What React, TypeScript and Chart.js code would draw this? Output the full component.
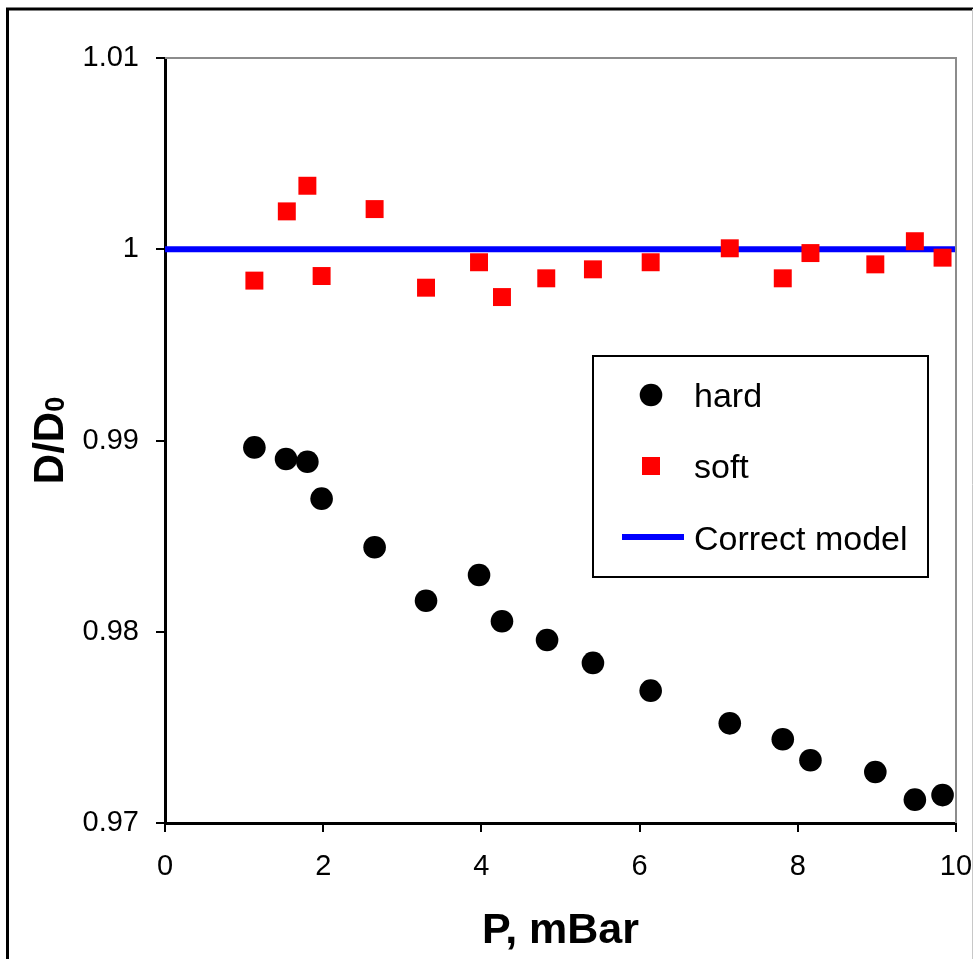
import React, { useEffect, useRef } from "react";
import { Chart, registerables } from "chart.js";

Chart.register(...registerables);

// ---- data ----
const hardP = [1.13, 1.53, 1.8, 1.98, 2.65, 3.3, 3.97, 4.26, 4.83, 5.41, 6.14, 7.14, 7.81, 8.16, 8.98, 9.48, 9.83];
const hardD = [0.98964, 0.98903, 0.98889, 0.98696, 0.98442, 0.98162, 0.98297, 0.98055, 0.97957, 0.97837, 0.97692, 0.97521, 0.97438, 0.97328, 0.97267, 0.97122, 0.97146];
const softP = [1.13, 1.54, 1.8, 1.98, 2.65, 3.3, 3.97, 4.26, 4.82, 5.41, 6.14, 7.14, 7.81, 8.16, 8.98, 9.48, 9.83];
const softD = [0.99836, 1.00198, 1.00332, 0.9986, 1.0021, 0.99799, 0.99932, 0.9975, 0.99848, 0.99895, 0.99932, 1.00005, 0.99848, 0.9998, 0.99921, 1.00042, 0.99956];
const modelP = [0, 10];
const modelD = [1, 1];
const seriesNames = ["hard", "soft", "Correct model"];
const xMin = 0;
const xMax = 10;
const xStep = 2;
const yMin = 0.97;
const yMax = 1.01;
const yStep = 0.01;
const xTitle = "P, mBar";
const yTitleMain = "D/D";
const yTitleSub = "0";

const FONT = "'Liberation Sans', Arial, sans-serif";

const toPts = (xs: number[], ys: number[]) => xs.map((x, i) => ({ x, y: ys[i] }));

const decorPlugin = {
  id: "decor",
  afterDraw(chart: any) {
    const ctx = chart.ctx as CanvasRenderingContext2D;
    const { left, right, top, bottom } = chart.chartArea;
    ctx.save();
    // outer frame
    ctx.strokeStyle = "#000";
    ctx.lineWidth = 3;
    ctx.beginPath();
    ctx.moveTo(7.5, 980);
    ctx.lineTo(7.5, 9);
    ctx.lineTo(990, 9);
    ctx.stroke();
    ctx.strokeStyle = "#c8c8c8";
    ctx.lineWidth = 1;
    ctx.beginPath();
    ctx.moveTo(972.5, 9);
    ctx.lineTo(972.5, 980);
    ctx.stroke();

    // plot top/right gray border
    ctx.strokeStyle = "#8c8c8c";
    ctx.lineWidth = 2;
    ctx.beginPath();
    ctx.moveTo(left, top);
    ctx.lineTo(right, top);
    ctx.lineTo(right, bottom);
    ctx.stroke();

    // x title
    ctx.fillStyle = "#000";
    ctx.font = `bold 43px ${FONT}`;
    ctx.textAlign = "center";
    ctx.textBaseline = "alphabetic";
    ctx.fillText(xTitle, (left + right) / 2, 943);

    // y title (rotated, with subscript)
    ctx.save();
    const mainFont = `bold 42px ${FONT}`;
    const subFont = `bold 27px ${FONT}`;
    ctx.font = mainFont;
    const wMain = ctx.measureText(yTitleMain).width;
    ctx.font = subFont;
    const wSub = ctx.measureText(yTitleSub).width;
    const total = wMain + wSub;
    ctx.translate(63, (top + bottom) / 2);
    ctx.rotate(-Math.PI / 2);
    ctx.textAlign = "left";
    ctx.font = mainFont;
    ctx.fillText(yTitleMain, -total / 2, 0);
    ctx.font = subFont;
    ctx.fillText(yTitleSub, -total / 2 + wMain, 1);
    ctx.restore();

    // legend
    const bx = 593, by = 356, bw = 335, bh = 221;
    ctx.fillStyle = "#fff";
    ctx.fillRect(bx, by, bw, bh);
    ctx.strokeStyle = "#000";
    ctx.lineWidth = 2;
    ctx.strokeRect(bx, by, bw, bh);
    const ds = chart.data.datasets;
    // hard
    ctx.fillStyle = ds[0].backgroundColor;
    ctx.beginPath();
    ctx.arc(651, 395, 11.3, 0, Math.PI * 2);
    ctx.fill();
    // soft
    ctx.fillStyle = ds[1].backgroundColor;
    ctx.fillRect(651 - 9, 466 - 9, 18, 18);
    // model line
    ctx.strokeStyle = ds[2].borderColor;
    ctx.lineWidth = 6;
    ctx.beginPath();
    ctx.moveTo(622, 537);
    ctx.lineTo(684, 537);
    ctx.stroke();
    ctx.fillStyle = "#000";
    ctx.font = `34px ${FONT}`;
    ctx.textAlign = "left";
    ctx.textBaseline = "alphabetic";
    ctx.fillText(seriesNames[0], 694, 407);
    ctx.fillText(seriesNames[1], 694, 478);
    ctx.fillText(seriesNames[2], 694, 550);
    ctx.restore();
  },
};

export default function App() {
  const ref = useRef<HTMLCanvasElement | null>(null);
  useEffect(() => {
    if (!ref.current) return;
    const chart = new Chart(ref.current, {
      type: "scatter",
      data: {
        datasets: [
          {
            label: seriesNames[0],
            data: toPts(hardP, hardD),
            backgroundColor: "#000000",
            borderColor: "#000000",
            borderWidth: 0,
            pointStyle: "circle",
            pointRadius: 11.3,
            order: 0,
          },
          {
            label: seriesNames[1],
            data: toPts(softP, softD),
            backgroundColor: "#ff0000",
            borderColor: "#ff0000",
            borderWidth: 0,
            pointStyle: "rect",
            pointRadius: 12.7,
            order: 1,
          },
          {
            label: seriesNames[2],
            data: toPts(modelP, modelD),
            showLine: true,
            borderColor: "#0000ff",
            backgroundColor: "#0000ff",
            borderWidth: 6,
            pointRadius: 0,
            order: 2,
          } as any,
        ],
      },
      options: {
        animation: false,
        responsive: false,
        devicePixelRatio: 1,
        layout: { padding: { left: 0, right: 0, top: 58, bottom: 0 } },
        plugins: { legend: { display: false }, tooltip: { enabled: false } },
        scales: {
          x: {
            type: "linear",
            min: xMin,
            max: xMax,
            ticks: {
              stepSize: xStep,
              color: "#000",
              font: { family: FONT, size: 29 },
              padding: 18,
              maxRotation: 0,
            },
            grid: { drawOnChartArea: false, drawTicks: true, tickLength: 9, color: "#000", lineWidth: 2 },
            border: { display: true, color: "#000", width: 3 },
            afterFit: (s: any) => {
              s.height = 136;
              s.paddingLeft = 0;
              s.paddingRight = 17;
            },
          },
          y: {
            type: "linear",
            min: yMin,
            max: yMax,
            ticks: {
              stepSize: yStep,
              color: "#000",
              font: { family: FONT, size: 29 },
              padding: 17,
              callback: (v: any) => String(Number(Number(v).toFixed(2))),
            },
            grid: { drawOnChartArea: false, drawTicks: true, tickLength: 9, color: "#000", lineWidth: 2 },
            border: { display: true, color: "#000", width: 3 },
            afterFit: (s: any) => {
              s.width = 165;
              s.paddingTop = 0;
              s.paddingBottom = 0;
            },
          },
        },
      },
      plugins: [decorPlugin],
    });
    return () => chart.destroy();
  }, []);
  return (
    <div style={{ position: "fixed", left: 0, top: 0, width: 973, height: 959, background: "#fff" }}>
      <canvas ref={ref} width={973} height={959} style={{ display: "block", width: 973, height: 959 }} />
    </div>
  );
}
